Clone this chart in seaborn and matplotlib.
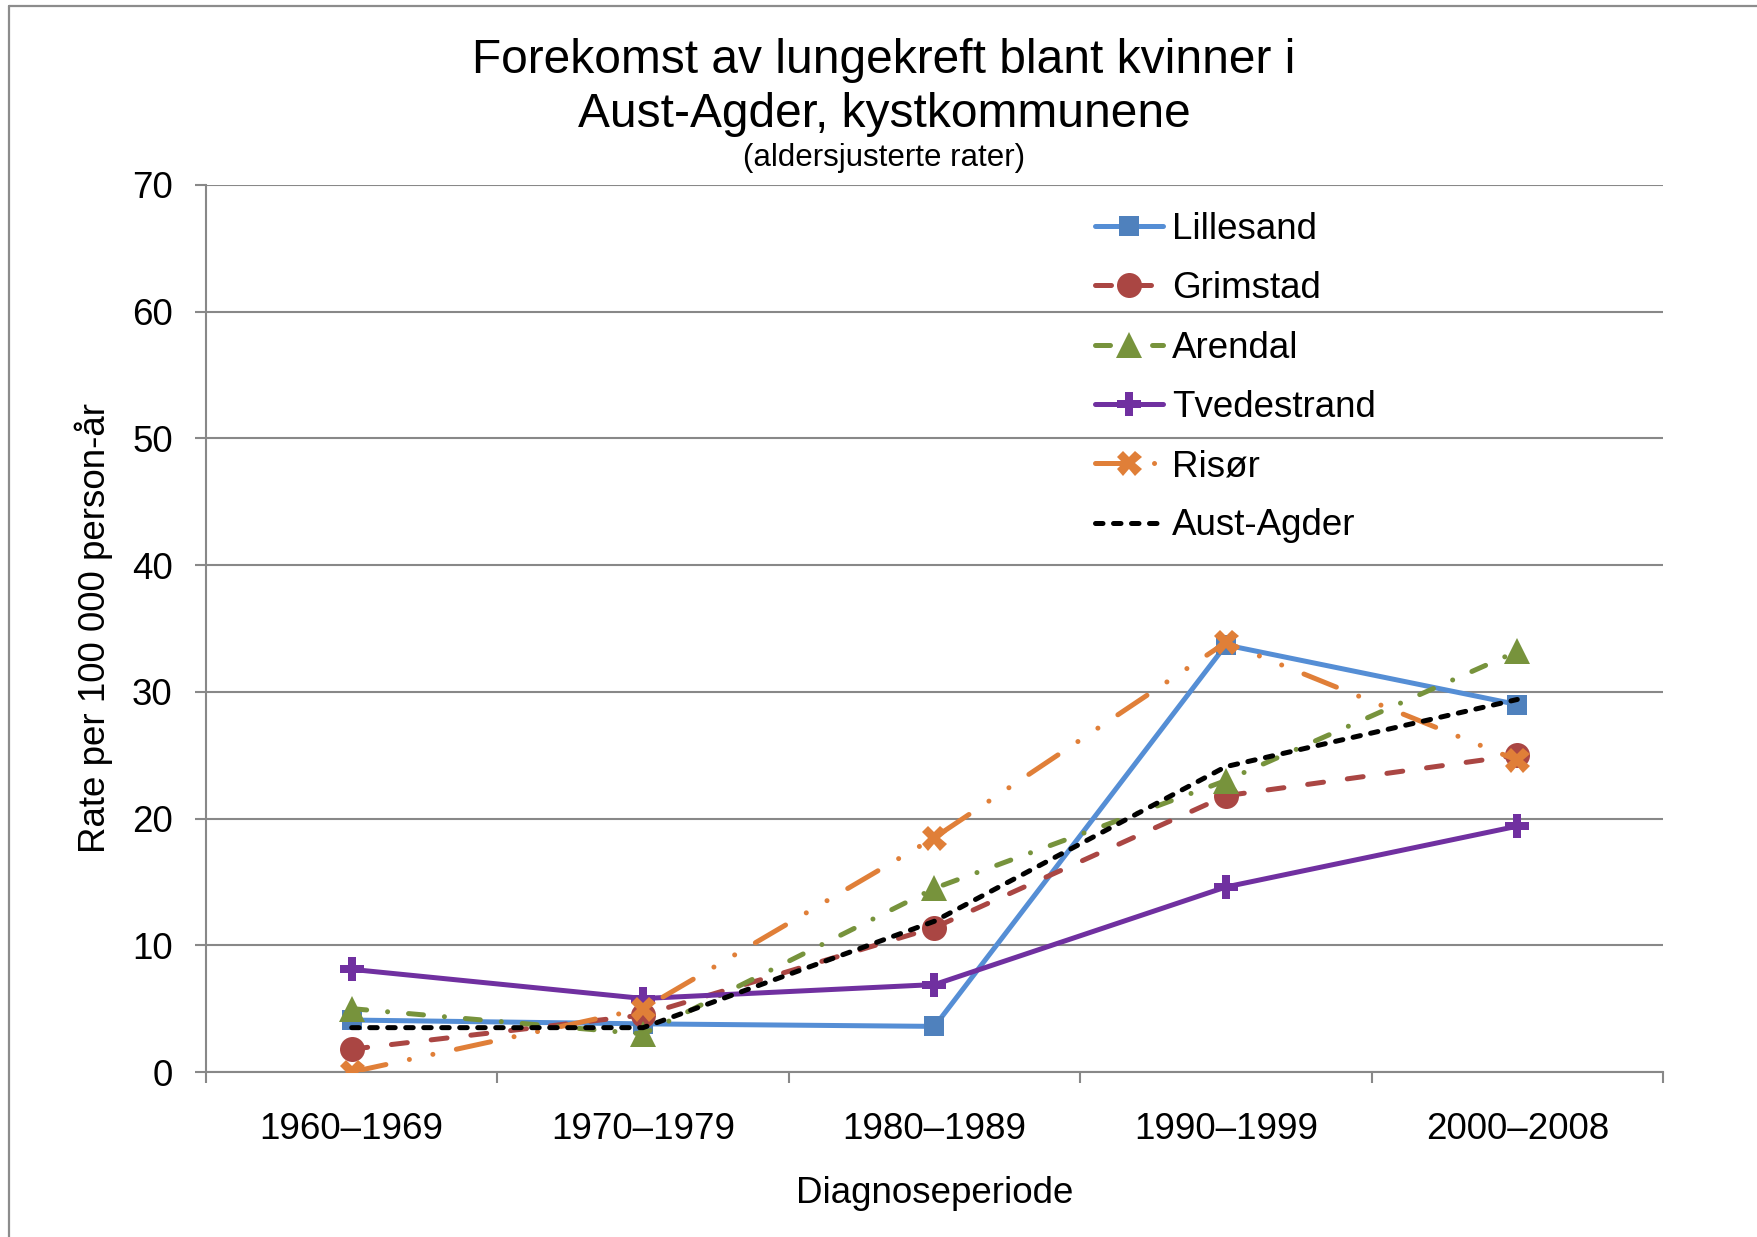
import matplotlib
matplotlib.use("Agg")
import matplotlib.pyplot as plt
from matplotlib.lines import Line2D
import seaborn as sns
import pandas as pd

# ---- data ----
periods = ["1960–1969", "1970–1979", "1980–1989", "1990–1999", "2000–2008"]
lillesand = [4.1, 3.8, 3.6, 33.7, 29.0]
grimstad = [1.8, 4.5, 11.4, 21.8, 25.0]
arendal = [5.0, 3.0, 14.5, 23.0, 33.2]
tvedestrand = [8.1, 5.8, 6.9, 14.6, 19.4]
risor = [0.0, 5.0, 18.5, 33.9, 24.6]
aust_agder = [3.5, 3.5, 11.9, 24.1, 29.4]
series_names = ["Lillesand", "Grimstad", "Arendal", "Tvedestrand", "Risør", "Aust-Agder"]
series_values = [lillesand, grimstad, arendal, tvedestrand, risor, aust_agder]

title_line1 = "Forekomst av lungekreft blant kvinner i"
title_line2 = "Aust-Agder, kystkommunene"
subtitle = "(aldersjusterte rater)"
ylabel = "Rate per 100 000 person-år"
xlabel = "Diagnoseperiode"
yticks = [0, 10, 20, 30, 40, 50, 60, 70]

# ---- styles ----
LW = 3.6
styles = {
    "Lillesand": dict(color="#558ED5", mfc="#4F81BD", marker="s", ms=15, ls="-"),
    "Grimstad": dict(color="#AA4643", mfc="#AA4643", marker="o", ms=18, ls=(0, (3.2, 4.8))),
    "Arendal": dict(color="#77933C", mfc="#77933C", marker="^", ms=19, ls=(0, (3.0, 4.2, 0.01, 4.2))),
    "Tvedestrand": dict(color="#7030A0", mfc="#7030A0", marker="P", ms=17, ls="-"),
    "Risør": dict(color="#E07F38", mfc="#E07F38", marker="X", ms=18, ls=(0, (7.0, 4.8, 0.01, 4.8, 0.01, 4.8))),
    "Aust-Agder": dict(color="#000000", mfc="none", marker="", ms=0, ls=(0, (1.5, 2.1))),
}

sns.set_style("white")
plt.rcParams["font.family"] = ["Liberation Sans", "DejaVu Sans"]
plt.rcParams["text.color"] = "black"
plt.rcParams["axes.labelcolor"] = "black"

W, H = 1758, 1237
fig = plt.figure(figsize=(W / 100, H / 100), dpi=100)
ax = fig.add_axes([206 / W, 1 - 1072 / H, (1663 - 206) / W, (1072 - 185) / H])

pos = list(range(len(periods)))
handles = []
for name, vals in zip(series_names, series_values):
    st = styles[name]
    df = pd.DataFrame({"x": pos, "y": vals})
    sns.lineplot(data=df, x="x", y="y", ax=ax, color=st["color"], linewidth=LW,
                 linestyle=st["ls"], marker=st["marker"] if st["marker"] else None,
                 markersize=st["ms"], markerfacecolor=st["mfc"],
                 markeredgecolor=st["mfc"], markeredgewidth=0,
                 dash_capstyle="round", solid_capstyle="round", zorder=3)
    handles.append(Line2D([], [], color=st["color"], linewidth=LW, linestyle=st["ls"],
                          marker=st["marker"] if st["marker"] else None,
                          markersize=st["ms"], markerfacecolor=st["mfc"],
                          markeredgecolor=st["mfc"], markeredgewidth=0,
                          dash_capstyle="round", solid_capstyle="round"))

ax.set_xlim(-0.5, len(periods) - 0.5)
ax.set_ylim(0, 70)
ax.set_yticks(yticks)
ax.set_yticklabels([str(v) for v in yticks])
ax.set_xticks(pos)
ax.set_xticklabels(periods)
ax.set_xticks([p - 0.5 for p in range(len(periods) + 1)], minor=True)
ax.set_xlabel("")
ax.set_ylabel("")

grid_c = "#888888"
ax.grid(axis="y", color=grid_c, linewidth=1.5, zorder=0)
ax.grid(axis="x", visible=False)
for s in ["top", "right"]:
    ax.spines[s].set_visible(False)
for s in ["left", "bottom"]:
    ax.spines[s].set_color(grid_c)
    ax.spines[s].set_linewidth(1.5)
ax.tick_params(axis="y", which="major", length=8, width=1.5, color=grid_c, pad=16,
               labelsize=26.5, labelcolor="black", left=True)
ax.tick_params(axis="x", which="major", length=0, pad=29, labelsize=26.5, labelcolor="black")
ax.tick_params(axis="x", which="minor", length=8, width=1.5, color=grid_c, bottom=True)

leg = ax.legend(handles, series_names, loc="upper left",
                bbox_to_anchor=(1095 / W, 1 - 212 / H), bbox_transform=fig.transFigure,
                frameon=False, fontsize=26.5, handlelength=1.85, handletextpad=0.25,
                labelspacing=0.66, borderpad=0, borderaxespad=0)

fig.text(884 / W, 1 - 73 / H, title_line1, ha="center", va="baseline", fontsize=34.5)
fig.text(884 / W, 1 - 127 / H, title_line2, ha="center", va="baseline", fontsize=34.5)
fig.text(884 / W, 1 - 166 / H, subtitle, ha="center", va="baseline", fontsize=22.5)
fig.text(94 / W, 0.4923, ylabel, rotation=90, ha="center", va="center", fontsize=26.5)
fig.text(935 / W, 1 - 1203 / H, xlabel, ha="center", va="baseline", fontsize=26.5)

border_c = "#8C8C8C"
fig.add_artist(Line2D([9 / W, 1], [1 - 6 / H, 1 - 6 / H], transform=fig.transFigure,
                      color=border_c, linewidth=1.6))
fig.add_artist(Line2D([9 / W, 9 / W], [0, 1 - 6 / H], transform=fig.transFigure,
                      color=border_c, linewidth=1.6))

fig.savefig("out.png", dpi=100, facecolor="white")
